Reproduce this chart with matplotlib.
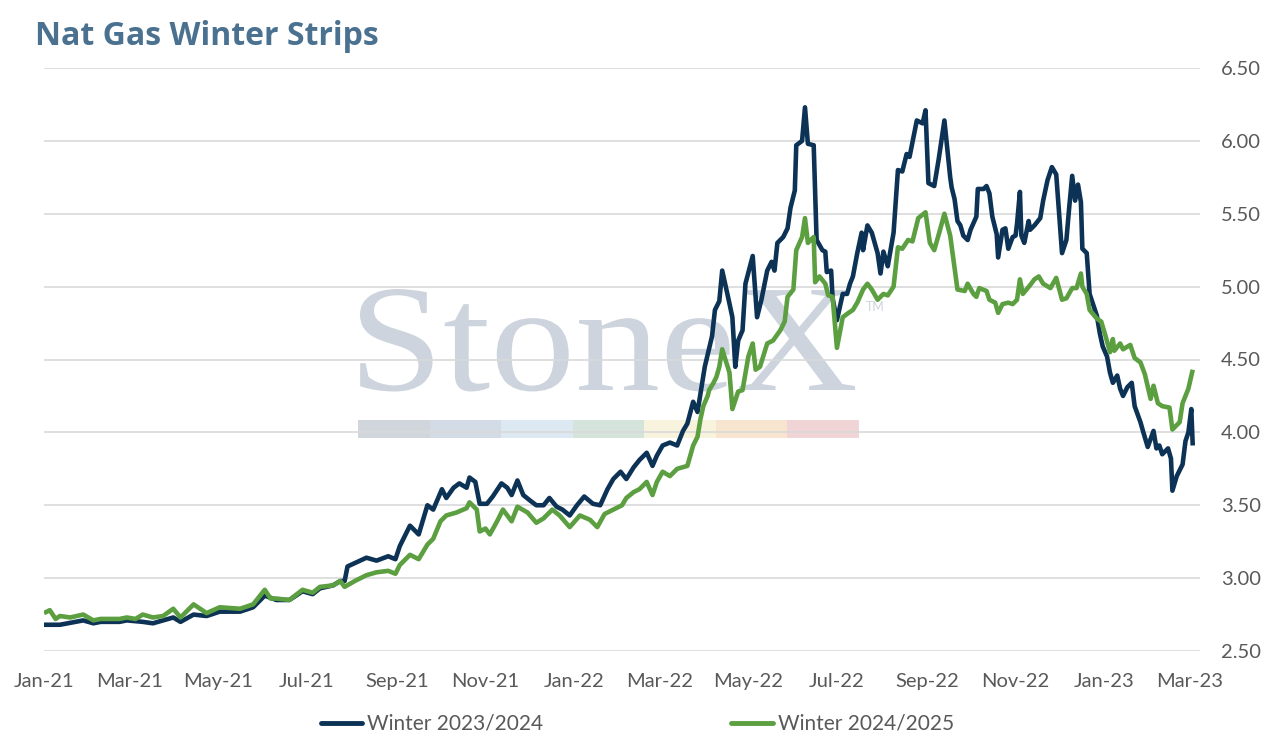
import matplotlib
matplotlib.use("Agg")
import matplotlib.pyplot as plt
import matplotlib.dates as mdates
from matplotlib.lines import Line2D
from matplotlib.patches import Rectangle, PathPatch
from matplotlib.textpath import TextPath
from matplotlib.font_manager import FontProperties
from matplotlib.transforms import Affine2D
from matplotlib.ticker import FormatStrFormatter
import pandas as pd

title = "Nat Gas Winter Strips"
series_names = ["Winter 2023/2024", "Winter 2024/2025"]
series_colors = ["#0c3255", "#5c9f40"]

blue_dates = [
    "2021-01-01", "2021-01-12", "2021-01-28", "2021-02-04", "2021-02-09", "2021-02-15", "2021-02-22",
    "2021-02-27", "2021-03-10", "2021-03-17", "2021-03-24", "2021-03-31", "2021-04-05", "2021-04-14",
    "2021-04-23", "2021-05-02", "2021-05-16", "2021-05-25", "2021-06-02", "2021-06-10", "2021-06-19",
    "2021-06-28", "2021-07-05", "2021-07-10", "2021-07-19", "2021-07-24", "2021-07-27", "2021-07-29",
    "2021-08-11", "2021-08-18", "2021-08-26", "2021-08-31", "2021-09-03", "2021-09-10", "2021-09-16",
    "2021-09-22", "2021-09-26", "2021-10-02", "2021-10-05", "2021-10-10", "2021-10-14", "2021-10-19",
    "2021-10-21", "2021-10-25", "2021-10-28", "2021-11-02", "2021-11-06", "2021-11-12", "2021-11-16",
    "2021-11-19", "2021-11-23", "2021-11-27", "2021-12-02", "2021-12-06", "2021-12-11", "2021-12-15",
    "2021-12-20", "2021-12-24", "2021-12-29", "2022-01-03", "2022-01-08", "2022-01-14", "2022-01-19",
    "2022-01-24", "2022-01-28", "2022-02-02", "2022-02-06", "2022-02-11", "2022-02-15", "2022-02-20",
    "2022-02-24", "2022-02-27", "2022-03-03", "2022-03-08", "2022-03-13", "2022-03-17", "2022-03-20",
    "2022-03-24", "2022-03-27", "2022-04-01", "2022-04-06", "2022-04-08", "2022-04-11", "2022-04-13",
    "2022-04-17", "2022-04-20", "2022-04-22", "2022-04-24", "2022-04-27", "2022-04-29", "2022-05-04",
    "2022-05-07", "2022-05-10", "2022-05-14", "2022-05-17", "2022-05-19", "2022-05-21", "2022-05-25",
    "2022-05-28", "2022-05-30", "2022-06-02", "2022-06-03", "2022-06-07", "2022-06-09", "2022-06-11",
    "2022-06-15", "2022-06-17", "2022-06-21", "2022-06-23", "2022-06-24", "2022-06-27", "2022-06-28",
    "2022-07-01", "2022-07-05", "2022-07-08", "2022-07-10", "2022-07-12", "2022-07-15", "2022-07-18",
    "2022-07-19", "2022-07-22", "2022-07-25", "2022-07-29", "2022-07-31", "2022-08-02", "2022-08-05",
    "2022-08-09", "2022-08-12", "2022-08-15", "2022-08-18", "2022-08-20", "2022-08-25", "2022-08-29",
    "2022-08-31", "2022-09-02", "2022-09-06", "2022-09-09", "2022-09-13", "2022-09-17", "2022-09-18",
    "2022-09-20", "2022-09-22", "2022-09-24", "2022-09-26", "2022-09-29", "2022-10-01", "2022-10-05",
    "2022-10-06", "2022-10-10", "2022-10-12", "2022-10-14", "2022-10-16", "2022-10-19", "2022-10-20",
    "2022-10-23", "2022-10-25", "2022-10-27", "2022-10-30", "2022-11-01", "2022-11-02", "2022-11-04",
    "2022-11-05", "2022-11-07", "2022-11-10", "2022-11-11", "2022-11-14", "2022-11-18", "2022-11-20",
    "2022-11-23", "2022-11-26", "2022-11-29", "2022-12-03", "2022-12-06", "2022-12-08", "2022-12-10",
    "2022-12-12", "2022-12-14", "2022-12-16", "2022-12-17", "2022-12-20", "2022-12-22", "2022-12-24",
    "2022-12-27", "2022-12-29", "2022-12-31", "2023-01-03", "2023-01-05", "2023-01-07", "2023-01-10",
    "2023-01-12", "2023-01-14", "2023-01-17", "2023-01-20", "2023-01-22", "2023-01-26", "2023-01-28",
    "2023-01-31", "2023-02-04", "2023-02-06", "2023-02-08", "2023-02-10", "2023-02-14", "2023-02-16",
    "2023-02-17", "2023-02-20", "2023-02-24", "2023-02-26", "2023-02-28", "2023-03-02", "2023-03-03",
]
blue_values = [
    2.68, 2.68, 2.71, 2.69, 2.70, 2.70, 2.70,
    2.71, 2.70, 2.69, 2.71, 2.73, 2.70, 2.75,
    2.74, 2.77, 2.77, 2.80, 2.88, 2.85, 2.85,
    2.91, 2.89, 2.93, 2.95, 2.98, 2.98, 3.08,
    3.14, 3.12, 3.15, 3.13, 3.22, 3.36, 3.30,
    3.50, 3.47, 3.61, 3.55, 3.62, 3.65, 3.62,
    3.69, 3.66, 3.51, 3.51, 3.56, 3.65, 3.62,
    3.57, 3.67, 3.57, 3.53, 3.50, 3.50, 3.55,
    3.49, 3.47, 3.43, 3.50, 3.56, 3.51, 3.50,
    3.61, 3.68, 3.73, 3.68, 3.76, 3.81, 3.86,
    3.77, 3.84, 3.91, 3.93, 3.91, 4.01, 4.06,
    4.21, 4.14, 4.45, 4.66, 4.84, 4.90, 5.11,
    4.93, 4.79, 4.45, 4.63, 4.70, 5.02, 5.21,
    4.79, 4.91, 5.11, 5.17, 5.11, 5.30, 5.34,
    5.40, 5.54, 5.66, 5.97, 6.00, 6.23, 5.98,
    5.97, 5.32, 5.25, 5.24, 5.10, 5.11, 4.92,
    4.77, 4.95, 4.95, 5.02, 5.07, 5.23, 5.37,
    5.25, 5.42, 5.37, 5.23, 5.09, 5.24, 5.14,
    5.37, 5.80, 5.79, 5.91, 5.89, 6.14, 6.12,
    6.21, 5.71, 5.69, 5.87, 6.14, 5.75, 5.68,
    5.60, 5.45, 5.42, 5.35, 5.32, 5.39, 5.48,
    5.67, 5.67, 5.69, 5.64, 5.48, 5.36, 5.20,
    5.39, 5.40, 5.26, 5.34, 5.35, 5.43, 5.65,
    5.35, 5.30, 5.45, 5.39, 5.42, 5.47, 5.59,
    5.73, 5.82, 5.77, 5.23, 5.32, 5.55, 5.76,
    5.59, 5.70, 5.58, 5.26, 5.23, 4.95, 4.89,
    4.80, 4.68, 4.59, 4.52, 4.41, 4.34, 4.39,
    4.30, 4.25, 4.31, 4.34, 4.18, 4.07, 4.00,
    3.90, 4.01, 3.89, 3.91, 3.85, 3.89, 3.82,
    3.60, 3.70, 3.78, 3.94, 4.00, 4.16, 3.91,
]

green_dates = [
    "2021-01-01", "2021-01-05", "2021-01-09", "2021-01-12", "2021-01-19", "2021-01-28", "2021-02-04",
    "2021-02-09", "2021-02-15", "2021-02-22", "2021-02-27", "2021-03-05", "2021-03-10", "2021-03-17",
    "2021-03-24", "2021-03-31", "2021-04-05", "2021-04-14", "2021-04-23", "2021-05-02", "2021-05-16",
    "2021-05-25", "2021-06-02", "2021-06-06", "2021-06-10", "2021-06-19", "2021-06-28", "2021-07-05",
    "2021-07-10", "2021-07-19", "2021-07-24", "2021-07-27", "2021-08-03", "2021-08-11", "2021-08-18",
    "2021-08-26", "2021-08-31", "2021-09-03", "2021-09-10", "2021-09-16", "2021-09-22", "2021-09-26",
    "2021-10-01", "2021-10-05", "2021-10-12", "2021-10-19", "2021-10-21", "2021-10-26", "2021-10-28",
    "2021-11-01", "2021-11-04", "2021-11-09", "2021-11-13", "2021-11-19", "2021-11-23", "2021-11-30",
    "2021-12-06", "2021-12-11", "2021-12-17", "2021-12-22", "2021-12-29", "2022-01-05", "2022-01-12",
    "2022-01-17", "2022-01-22", "2022-01-28", "2022-02-03", "2022-02-06", "2022-02-11", "2022-02-15",
    "2022-02-20", "2022-02-24", "2022-02-27", "2022-03-03", "2022-03-08", "2022-03-13", "2022-03-20",
    "2022-03-24", "2022-03-27", "2022-03-29", "2022-03-31", "2022-04-03", "2022-04-04", "2022-04-07",
    "2022-04-09", "2022-04-11", "2022-04-13", "2022-04-18", "2022-04-20", "2022-04-24", "2022-04-27",
    "2022-05-01", "2022-05-04", "2022-05-06", "2022-05-09", "2022-05-14", "2022-05-18", "2022-05-23",
    "2022-05-26", "2022-05-28", "2022-06-01", "2022-06-03", "2022-06-07", "2022-06-09", "2022-06-11",
    "2022-06-15", "2022-06-16", "2022-06-19", "2022-06-23", "2022-06-25", "2022-06-28", "2022-07-01",
    "2022-07-05", "2022-07-09", "2022-07-12", "2022-07-15", "2022-07-19", "2022-07-22", "2022-07-25",
    "2022-07-29", "2022-08-02", "2022-08-05", "2022-08-09", "2022-08-12", "2022-08-15", "2022-08-19",
    "2022-08-22", "2022-08-26", "2022-08-31", "2022-09-03", "2022-09-06", "2022-09-10", "2022-09-13",
    "2022-09-17", "2022-09-19", "2022-09-22", "2022-09-27", "2022-09-29", "2022-10-03", "2022-10-05",
    "2022-10-07", "2022-10-12", "2022-10-14", "2022-10-18", "2022-10-20", "2022-10-23", "2022-10-27",
    "2022-10-30", "2022-11-02", "2022-11-04", "2022-11-06", "2022-11-11", "2022-11-14", "2022-11-17",
    "2022-11-20", "2022-11-25", "2022-11-29", "2022-12-03", "2022-12-06", "2022-12-10", "2022-12-13",
    "2022-12-16", "2022-12-17", "2022-12-20", "2022-12-22", "2022-12-27", "2022-12-30", "2023-01-02",
    "2023-01-05", "2023-01-07", "2023-01-08", "2023-01-12", "2023-01-14", "2023-01-19", "2023-01-22",
    "2023-01-26", "2023-01-29", "2023-02-02", "2023-02-04", "2023-02-07", "2023-02-10", "2023-02-15",
    "2023-02-17", "2023-02-22", "2023-02-24", "2023-02-28", "2023-03-03",
]
green_values = [
    2.76, 2.78, 2.72, 2.74, 2.73, 2.75, 2.71,
    2.72, 2.72, 2.72, 2.73, 2.72, 2.75, 2.73,
    2.74, 2.79, 2.73, 2.82, 2.76, 2.80, 2.79,
    2.82, 2.92, 2.86, 2.86, 2.85, 2.92, 2.90,
    2.94, 2.95, 2.98, 2.94, 2.98, 3.02, 3.04,
    3.05, 3.03, 3.09, 3.16, 3.13, 3.23, 3.27,
    3.39, 3.43, 3.45, 3.48, 3.52, 3.47, 3.32,
    3.34, 3.30, 3.39, 3.47, 3.39, 3.49, 3.45,
    3.38, 3.41, 3.47, 3.43, 3.35, 3.43, 3.40,
    3.35, 3.44, 3.47, 3.50, 3.55, 3.59, 3.61,
    3.66, 3.57, 3.66, 3.73, 3.70, 3.75, 3.77,
    3.91, 3.97, 4.09, 4.18, 4.25, 4.29, 4.34,
    4.38, 4.45, 4.57, 4.41, 4.16, 4.28, 4.29,
    4.52, 4.61, 4.43, 4.45, 4.61, 4.63, 4.70,
    4.76, 4.93, 4.98, 5.25, 5.34, 5.47, 5.30,
    5.34, 5.03, 5.07, 5.02, 4.94, 4.93, 4.58,
    4.79, 4.82, 4.84, 4.89, 4.98, 5.02, 4.98,
    4.91, 4.95, 4.94, 5.00, 5.27, 5.26, 5.32,
    5.31, 5.47, 5.51, 5.30, 5.25, 5.39, 5.50,
    5.35, 5.20, 4.98, 4.97, 5.02, 4.95, 4.93,
    4.99, 4.97, 4.91, 4.89, 4.82, 4.88, 4.89,
    4.88, 4.91, 5.05, 4.95, 5.01, 5.05, 5.07,
    5.02, 4.99, 5.06, 4.91, 4.92, 4.99, 4.99,
    5.09, 5.00, 4.95, 4.84, 4.78, 4.76, 4.66,
    4.55, 4.64, 4.56, 4.61, 4.57, 4.60, 4.51,
    4.48, 4.40, 4.23, 4.32, 4.20, 4.18, 4.17,
    4.02, 4.07, 4.20, 4.30, 4.43,
]

y_ticks = [2.50, 3.00, 3.50, 4.00, 4.50, 5.00, 5.50, 6.00, 6.50]
x_start, x_end = "2021-01-01", "2023-03-08"

watermark_text = "StoneX"
watermark_bar_colors = ["#d1d6dd", "#d3dce6", "#dce8f2", "#d5e4da", "#f7f3dc", "#f7e5cf", "#f1d4d6"]

W, H = 1274, 743
fig = plt.figure(figsize=(W / 100, H / 100), dpi=100)
fig.patch.set_facecolor("white")
ax = fig.add_axes([44 / W, 1 - 651 / H, 1156 / W, 583 / H])
ax.set_facecolor("none")

tick_font = ["Lato", "DejaVu Sans"]
tick_color = "#595959"

# watermark logo (behind gridlines and lines), fitted to its box in pixel space
serif = FontProperties(family=["Liberation Serif", "DejaVu Serif"])
tp = TextPath((0, 0), watermark_text, size=100, prop=serif)
ext = tp.get_extents()
cap = TextPath((0, 0), "S", size=100, prop=serif).get_extents()
box_x0, box_x1, box_top, box_base = 360, 855, 289, 390
sx = (box_x1 - box_x0) / ext.width
sy = (box_base - box_top) / cap.y1
tr = (Affine2D().translate(-ext.x0, 0).scale(sx, sy)
      .translate(box_x0, H - box_base).scale(1 / W, 1 / H) + fig.transFigure)
ax.add_patch(PathPatch(tp, transform=tr, facecolor="#cdd4dd", edgecolor="none",
                       zorder=0.1, clip_on=False))
ax.text(866 / W, 1 - 311 / H, "TM", transform=fig.transFigure,
        family=tick_font, fontsize=9, color="#cdd4dd", ha="left", va="baseline", zorder=0.1)
seg_w = (859 - 358) / len(watermark_bar_colors)
for i, c in enumerate(watermark_bar_colors):
    ax.add_patch(Rectangle(((358 + i * seg_w) / W, 1 - 438 / H), seg_w / W, 18 / H,
                           transform=fig.transFigure, facecolor=c, edgecolor="none",
                           zorder=0.1, clip_on=False))

bd = pd.to_datetime(blue_dates)
gd = pd.to_datetime(green_dates)
ax.plot(bd, blue_values, color=series_colors[0], lw=3.3, solid_joinstyle="round",
        solid_capstyle="butt", zorder=3)
ax.plot(gd, green_values, color=series_colors[1], lw=3.3, solid_joinstyle="round",
        solid_capstyle="butt", zorder=3)

ax.set_ylim(2.5, 6.5)
ax.set_xlim(pd.Timestamp(x_start), pd.Timestamp(x_end))
ax.set_yticks(y_ticks)
ax.yaxis.set_major_formatter(FormatStrFormatter("%.2f"))
ax.yaxis.tick_right()
ax.xaxis.set_major_locator(mdates.MonthLocator(bymonth=[1, 3, 5, 7, 9, 11]))
ax.xaxis.set_major_formatter(mdates.DateFormatter("%b-%y"))
ax.grid(axis="y", color="#d9d9d9", lw=1.2, zorder=0.5)
ax.set_axisbelow(True)
ax.tick_params(axis="both", length=0, colors=tick_color, labelsize=14.5)
ax.tick_params(axis="x", pad=16)
ax.tick_params(axis="y", pad=15)
for lab in ax.get_xticklabels() + ax.get_yticklabels():
    lab.set_family(tick_font)
for s in ax.spines.values():
    s.set_visible(False)

# title
fig.text(35 / W, 1 - 45 / H, title, family=["Open Sans", "Lato", "DejaVu Sans"], fontsize=23,
         fontweight="bold", color="#4a7290", ha="left", va="baseline")

# legend
for (x0, x1, xt), name, col in zip([(321, 362, 367), (731, 773, 778)], series_names, series_colors):
    fig.add_artist(Line2D([x0 / W, x1 / W], [1 - 723 / H, 1 - 723 / H], color=col, lw=3.5,
                          solid_capstyle="round", transform=fig.transFigure))
    fig.text(xt / W, 1 - 723 / H, name, family=tick_font, fontsize=15, color=tick_color,
             ha="left", va="center")

fig.savefig("out.png", dpi=100, facecolor="white")
